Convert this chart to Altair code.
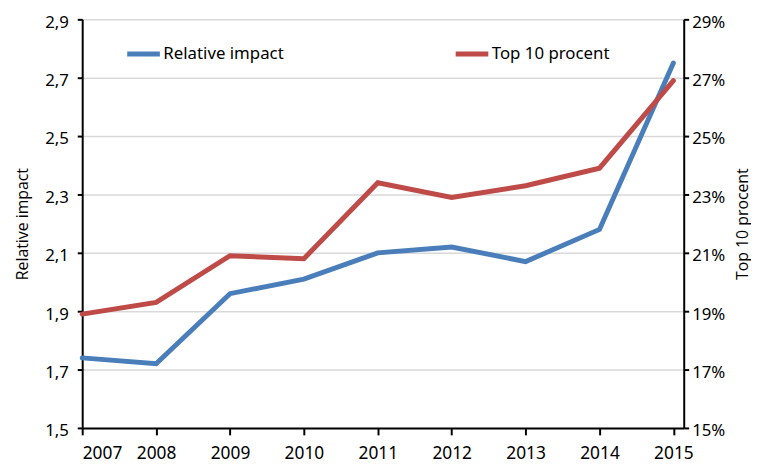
import altair as alt
import pandas as pd

years = [2007, 2008, 2009, 2010, 2011, 2012, 2013, 2014, 2015]
relative_impact = [1.74, 1.72, 1.96, 2.01, 2.10, 2.12, 2.07, 2.18, 2.75]
top10_procent = [18.9, 19.3, 20.9, 20.8, 23.4, 22.9, 23.3, 23.9, 26.9]
left_ticks = [1.5, 1.7, 1.9, 2.1, 2.3, 2.5, 2.7, 2.9]
right_ticks = [15, 17, 19, 21, 23, 25, 27, 29]
series_names = ["Relative impact", "Top 10 procent"]
series_colors = ["#4a7ebb", "#be4b48"]

df = pd.DataFrame({"year": years, "ri": relative_impact, "top": top10_procent})

TICK_FONT = "Noto Sans"
TITLE_FONT = "Open Sans"

x = alt.X(
    "year:Q",
    scale=alt.Scale(domain=[2007, 2015.14], nice=False, zero=False),
    axis=alt.Axis(values=years, format="d", title=None, grid=False,
                  domainColor="black", domainWidth=2, tickColor="black",
                  tickWidth=2, tickSize=7, labelPadding=10, labelFontSize=17.5,
                  labelFont=TICK_FONT, labelColor="black"),
)

color = alt.Color(
    "series:N",
    scale=alt.Scale(domain=series_names, range=series_colors),
    legend=alt.Legend(orient="none", legendX=43, legendY=16, direction="horizontal",
                      title=None, symbolType="stroke", symbolSize=1089,
                      symbolStrokeWidth=5, labelFontSize=17, labelFont=TICK_FONT,
                      labelColor="black", columnPadding=163, labelOffset=1),
)

left = alt.Chart(df).transform_calculate(
    series=f"'{series_names[0]}'"
).mark_line(strokeWidth=5, strokeCap="round").encode(
    x=x,
    y=alt.Y("ri:Q", scale=alt.Scale(domain=[1.5, 2.9], nice=False, zero=False),
            axis=alt.Axis(values=left_ticks,
                          labelExpr="replace(format(datum.value, '.1f'), '.', ',')",
                          title="Relative impact", titleFont=TITLE_FONT,
                          titleFontSize=16, titleFontWeight="normal", titleColor="black",
                          titlePadding=14, labelFont=TICK_FONT, labelFontSize=17,
                          labelColor="black", labelPadding=9, labelOffset=3,
                          domainColor="black", domainWidth=2, tickColor="black",
                          tickWidth=2, tickSize=5, grid=True, gridColor="#d9d9d9",
                          gridWidth=1.5)),
    color=color,
)

right = alt.Chart(df).transform_calculate(
    series=f"'{series_names[1]}'"
).mark_line(strokeWidth=5, strokeCap="round").encode(
    x=x,
    y=alt.Y("top:Q", scale=alt.Scale(domain=[15, 29], nice=False, zero=False),
            axis=alt.Axis(values=right_ticks, orient="right",
                          labelExpr="datum.value + '%'",
                          title="Top 10 procent", titleAngle=270, titleBaseline="top",
                          titleFont=TITLE_FONT,
                          titleFontSize=16, titleFontWeight="normal", titleColor="black",
                          titlePadding=10, labelFont=TICK_FONT, labelFontSize=17,
                          labelColor="black", labelPadding=3, labelOffset=3,
                          domainColor="black", domainWidth=2, tickColor="black",
                          tickWidth=2, tickSize=5, grid=False)),
    color=color,
)

chart = alt.layer(left, right).resolve_scale(y="independent").properties(
    width=751, height=457,
    autosize=alt.AutoSizeParams(type="fit", contains="padding"),
    padding={"left": 6, "top": 3, "right": 0, "bottom": 0},
).configure_view(stroke=None)

chart.save("out.html", embed_options={"renderer": "svg", "actions": False})
